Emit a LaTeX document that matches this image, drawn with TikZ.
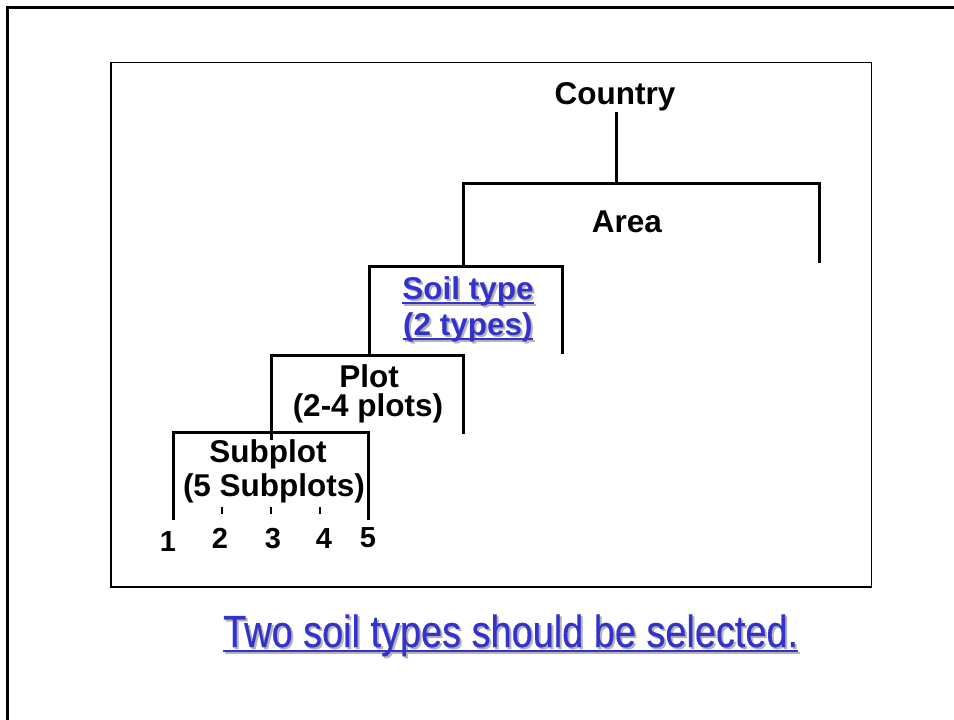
\documentclass[tikz,border=0pt]{standalone}
\usepackage{fontspec}
\setmainfont{Liberation Sans}
\newfontfamily\narrowfont[FakeStretch=0.842,FakeBold=0.4]{Liberation Sans}
\definecolor{linkblue}{HTML}{3333CC}
\definecolor{shadowc}{HTML}{B4B4B4}
\newsavebox\ShBox
\newcommand{\ShTxt}[1]{%
  \sbox\ShBox{#1}%
  \rlap{\kern2pt\raisebox{-2pt}{\color{shadowc}\rlap{\rule[-5pt]{\wd\ShBox}{2pt}}#1}}%
  \rlap{\rule[-5pt]{\wd\ShBox}{2pt}}#1}
\begin{document}
\begin{tikzpicture}[x=1pt,y=-1pt,
  lbl/.style={font=\fontsize{31.5}{31.5}\selectfont\bfseries, inner sep=0pt, anchor=base},
  num/.style={font=\fontsize{29}{29}\selectfont\bfseries, inner sep=0pt, anchor=base},
  bluelbl/.style={lbl, text=linkblue},
  brk/.style={line width=3pt, line cap=butt, line join=miter},
  tick/.style={line width=2.2pt},
  frame/.style={line width=2.4pt},
  box/.style={line width=1.2pt}]
\useasboundingbox (0,0) rectangle (954,720);
% outer frame
\draw[frame] (954,7.5) -- (7.5,7.5) -- (7.5,720);
% inner box
\draw[box] (111,62.5) rectangle (871.5,587);
% labels
\node[lbl] (country) at (615,104) {Country};
\node[lbl] (area) at (627,232) {Area};
\node[bluelbl] (soil) at (468,299) {\ShTxt{Soil type}};
\node[bluelbl] (soiln) at (468,335) {\ShTxt{(2 types)}};
\node[lbl] (plot) at (369,387) {Plot};
\node[lbl] (plotn) at (368,416) {(2-4 plots)};
\node[lbl] (subplot) at (268,462) {Subplot};
\node[lbl] (subplotn) at (274,496) {(5 Subplots)};
\node[num] (n1) at (168,551) {1};
\node[num] (n2) at (220,548) {2};
\node[num] (n3) at (273,548) {3};
\node[num] (n4) at (324,548) {4};
\node[num] (n5) at (368,547) {5};
\node[font=\fontsize{45}{45}\selectfont\narrowfont, text=linkblue, inner sep=0pt, anchor=base west] (note) at (223,647) {\ShTxt{Two soil types should be selected.}};
% bracket coordinates
\coordinate (cB) at (616,112);
\coordinate (aL) at (463,183); \coordinate (aR) at (819,183);
\coordinate (sL) at (369,266); \coordinate (sR) at (562,266);
\coordinate (pL) at (271,355); \coordinate (pR) at (463,355);
\coordinate (uL) at (173,432); \coordinate (uR) at (368,432);
% brackets
\draw[brk] (cB) -- (cB |- aL);
\draw[brk] (aL |- sL) -- (aL) -- (aR) -- ++(0,80);
\draw[brk] (sL |- pL) -- (sL) -- (sR) -- ++(0,88);
\draw[brk] (pL |- uL) ++(0,8) -- (pL) -- (pR) -- ++(0,79);
\draw[brk] (uL) ++(0,88) -- (uL) -- (uR) -- ++(0,88);
% ticks
\foreach \tx in {222,271,320} \draw[tick] (\tx,507) -- (\tx,514);
\end{tikzpicture}
\end{document}
